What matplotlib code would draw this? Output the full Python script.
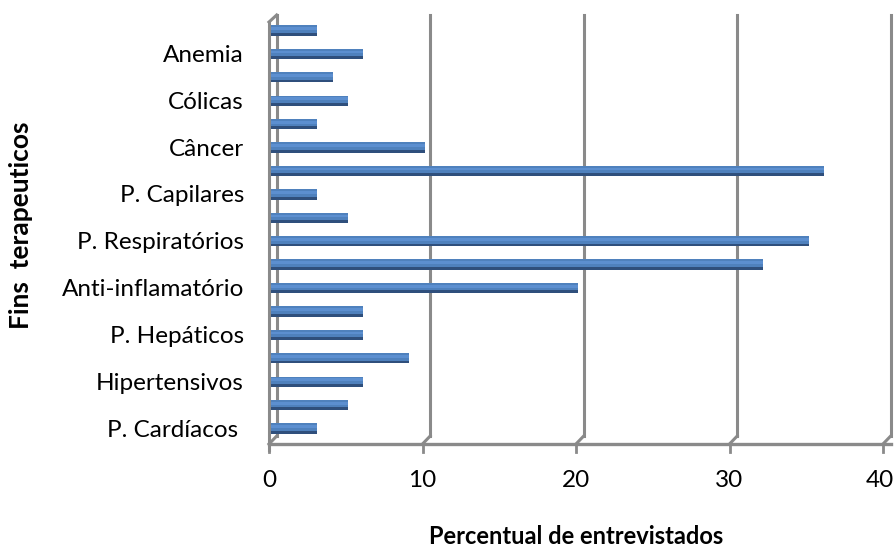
import numpy as np
import matplotlib.pyplot as plt
import matplotlib.transforms as mtransforms

# fins terapeuticos (bottom to top); only every other category is labelled on the axis
labels = ['P. Cardíacos ', '', 'Hipertensivos', '', 'P. Hepáticos', '',
          'Anti-inflamatório', '', 'P. Respiratórios', '', 'P. Capilares', '',
          'Câncer', '', 'Cólicas', '', 'Anemia', '']
values = [3, 5, 6, 9, 6, 6, 20, 32, 35, 5, 3, 36, 10, 3, 5, 4, 6, 3]
xticks = [0, 10, 20, 30, 40]

plt.rcParams['font.family'] = ['Lato', 'DejaVu Sans']

fig = plt.figure(figsize=(8.95, 5.5), dpi=100)
ax = fig.add_axes([269 / 895, 1 - 444 / 550, 614 / 895, 429 / 550])

y = np.arange(len(values))
ylo, yhi = -0.68, 17.64
grid_c = '#8a8a8a'

# back wall gridlines with the little perspective jog down to the floor
for v in xticks:
    ax.plot([v + 0.5, v + 0.5], [-0.34, yhi], color=grid_c, lw=2.2, clip_on=False, zorder=1)
    ax.plot([v + 0.5, v], [-0.34, ylo], color=grid_c, lw=2.2, clip_on=False, zorder=1)
    ax.plot([v, v], [ylo, ylo - 0.35], color=grid_c, lw=2.0, clip_on=False, zorder=1)

# floor and side wall
ax.plot([0, 40.5], [ylo, ylo], color=grid_c, lw=2.4, clip_on=False, zorder=1)
ax.plot([0, 0], [ylo - 0.25, yhi - 0.3], color=grid_c, lw=2.2, clip_on=False, zorder=1)
ax.plot([0, 0.5], [yhi - 0.3, yhi], color=grid_c, lw=2.2, clip_on=False, zorder=1)

# bars: dark underside, main body, light top highlight
ax.barh(y - 0.02, values, height=0.44, left=0.15, color='#2f4f7c', zorder=3)
ax.barh(y + 0.04, values, height=0.32, left=0.15, color='#4f81bd', zorder=4)
ax.barh(y + 0.06, values, height=0.12, left=0.15, color='#5c8fd0', zorder=5)

ax.set_xlim(0, 40)
ax.set_ylim(ylo, yhi)
ax.set_xticks(xticks)
ax.set_yticks(y)
ax.set_yticklabels(labels)
ax.tick_params(axis='y', length=0, pad=18, labelsize=17.5)
ax.tick_params(axis='x', length=0, pad=19, labelsize=17.5)
for s in ax.spines.values():
    s.set_visible(False)

# nudge the last tick label inside the figure edge
last = ax.get_xticklabels()[-1]
last.set_transform(last.get_transform() + mtransforms.ScaledTranslation(-3 / 100, 0, fig.dpi_scale_trans))

ax.set_xlabel('Percentual de entrevistados', fontsize=17, fontweight='bold', labelpad=24)
fig.text(21 / 895, 1 - 225 / 550, 'Fins  terapeuticos', rotation=90, fontsize=19,
         fontweight='bold', ha='center', va='center')

fig.savefig('out.png', dpi=100)
